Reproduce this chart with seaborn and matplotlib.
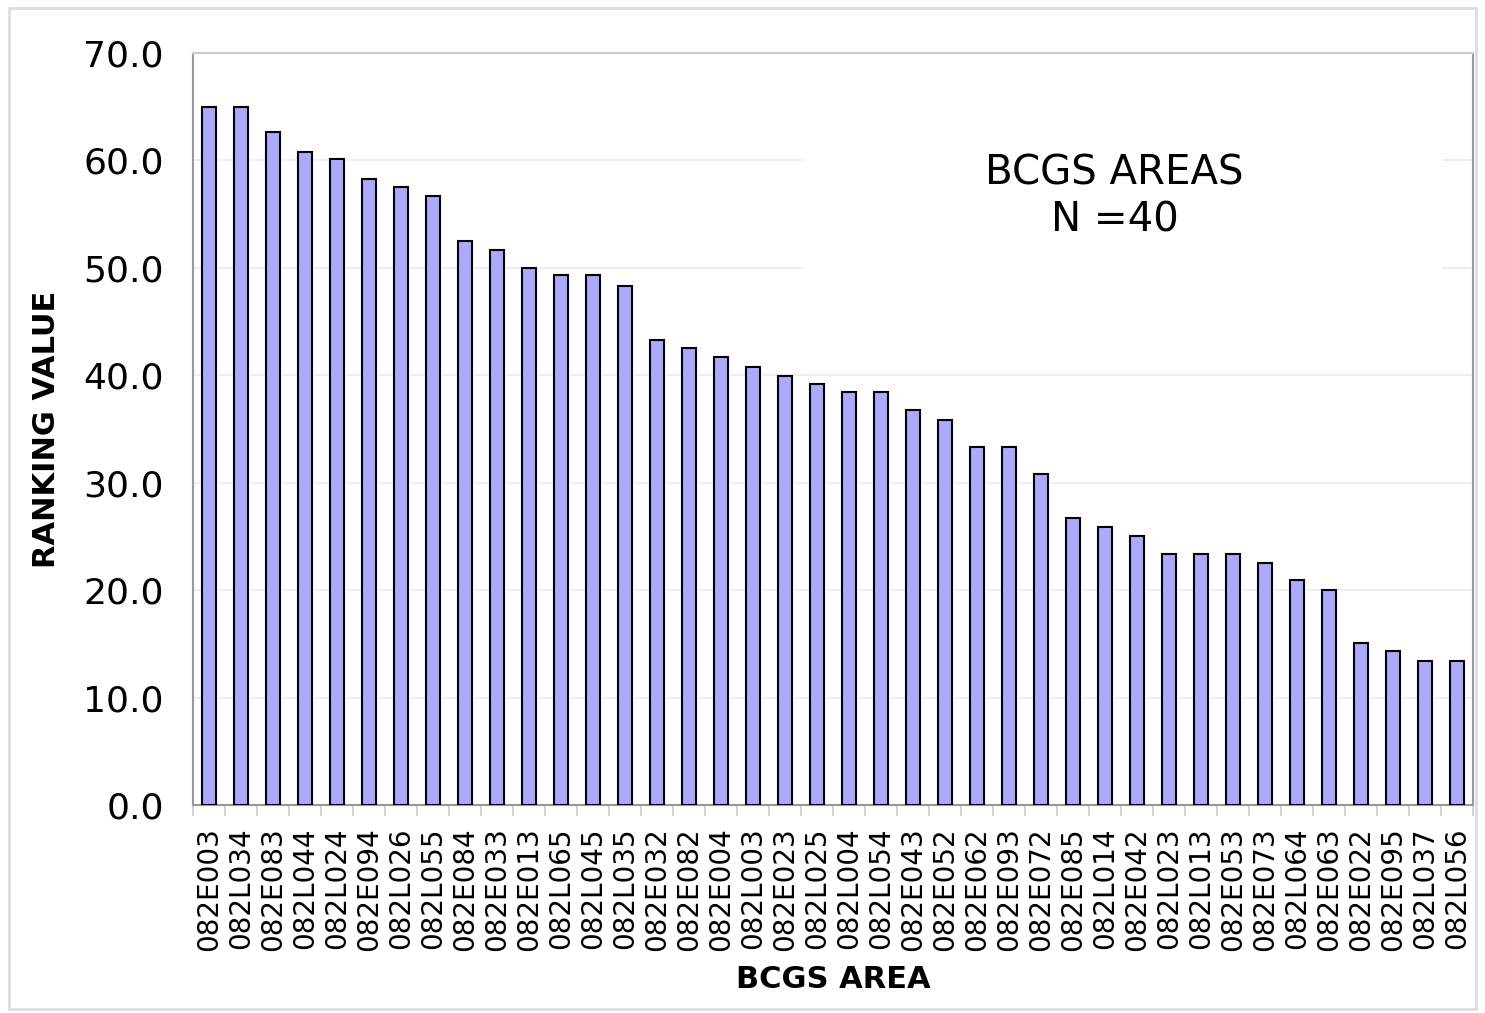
import numpy as np
import pandas as pd
import matplotlib
matplotlib.use("Agg")
import matplotlib.pyplot as plt
from matplotlib.patches import Rectangle
from matplotlib.ticker import FixedLocator
import seaborn as sns

# BCGS map areas, ordered by ranking value
areas = ["082E003", "082L034", "082E083", "082L044", "082L024", "082E094", "082L026", "082L055",
         "082E084", "082E033", "082E013", "082L065", "082L045", "082L035", "082E032", "082E082",
         "082E004", "082L003", "082E023", "082L025", "082L004", "082L054", "082E043", "082E052",
         "082E062", "082E093", "082E072", "082E085", "082L014", "082E042", "082L023", "082L013",
         "082E053", "082E073", "082L064", "082E063", "082E022", "082E095", "082L037", "082L056"]
ranking = [65.0, 65.0, 62.6, 60.8, 60.1, 58.3, 57.5, 56.7,
           52.5, 51.7, 50.0, 49.3, 49.3, 48.3, 43.3, 42.5,
           41.7, 40.8, 39.9, 39.2, 38.4, 38.4, 36.8, 35.8,
           33.3, 33.3, 30.8, 26.7, 25.9, 25.0, 23.4, 23.4,
           23.4, 22.5, 20.9, 20.0, 15.1, 14.3, 13.4, 13.4]
y_ticks = [0, 10, 20, 30, 40, 50, 60, 70]

df = pd.DataFrame({"area": areas, "value": ranking})

sns.set_style("white")
plt.rcParams["font.family"] = ["DejaVu Sans"]
plt.rcParams["text.color"] = "black"
plt.rcParams["axes.labelcolor"] = "black"
plt.rcParams["xtick.labelcolor"] = "black"
plt.rcParams["ytick.labelcolor"] = "black"

fig = plt.figure(figsize=(14.85, 10.13), dpi=100)
ax = fig.add_axes([0.130, 0.2053, 0.862, 0.7424])

# grid behind everything
ax.set_axisbelow(True)
ax.yaxis.grid(True, color="#ececec", linewidth=1.2)

sns.barplot(data=df, x="area", y="value", color="#aaaaff", saturation=1,
            edgecolor="black", linewidth=1.5, width=0.44, ax=ax, zorder=3)

# white box behind the annotation hides the gridlines there
ax.add_patch(Rectangle((0.477, 0.70), 0.499, 0.18, transform=ax.transAxes,
                       facecolor="white", edgecolor="none", zorder=1.5))
ax.text(0.720, 0.808, "BCGS AREAS\nN =40", transform=ax.transAxes,
        ha="center", va="center", fontsize=29, linespacing=1.22, color="black", zorder=4)

ax.set_ylim(0, 70)
ax.set_xlim(-0.5, len(areas) - 0.5)
ax.set_yticks(y_ticks)
ax.set_yticklabels([f"{v:.1f}" for v in y_ticks], fontsize=26)
ax.tick_params(axis="y", length=11, color="#cccccc", pad=10, width=1.2)
ax.tick_params(axis="x", which="major", length=0, pad=16, labelsize=20, labelrotation=90)
ax.xaxis.set_minor_locator(FixedLocator(np.arange(-0.5, len(areas), 1.0)))
ax.tick_params(axis="x", which="minor", length=8, color="#cccccc", width=1.2, bottom=True)

ax.set_xlabel("BCGS AREA", fontsize=22, fontweight="bold", labelpad=10, color="black")
ax.set_ylabel("RANKING VALUE", fontsize=22, fontweight="bold", labelpad=16, color="black")

for side in ["left", "right", "bottom"]:
    ax.spines[side].set_color("#999999")
    ax.spines[side].set_linewidth(1.5)
ax.spines["top"].set_color("#cccccc")
ax.spines["top"].set_linewidth(1.5)

# light frame around the whole chart
fig.add_artist(Rectangle((0.006, 0.004), 0.988, 0.988, transform=fig.transFigure,
                         facecolor="none", edgecolor="#dddddd", linewidth=2))

fig.savefig("out.png", dpi=100)
